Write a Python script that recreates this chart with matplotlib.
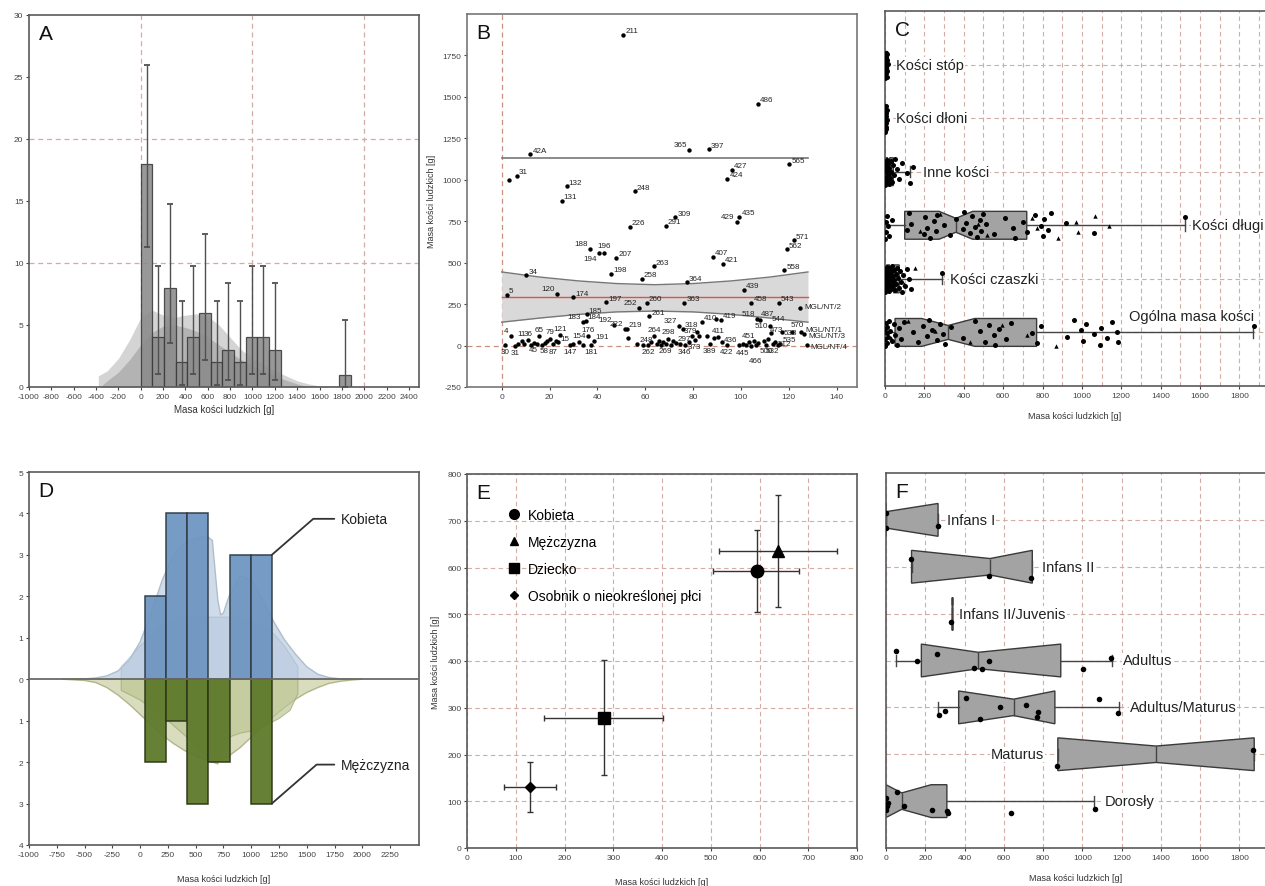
import numpy as np
import matplotlib
matplotlib.use("Agg")
import matplotlib.pyplot as plt
from matplotlib.lines import Line2D

plt.rcParams['font.family'] = ['Liberation Sans', 'DejaVu Sans']
plt.rcParams['axes.unicode_minus'] = False

# ===================== DATA =====================
# --- Panel A / C: total bone mass per feature [g]
total_mass = [0, 0, 2, 5, 8, 10, 12, 15, 20, 25, 30, 38, 45, 52, 60, 70, 82, 95,
              115, 140, 170, 195,
              215, 225, 240, 255, 265, 280, 295, 305,
              335, 395,
              430, 455, 480, 510,
              530, 555, 560, 580, 595, 615,
              640, 720,
              745, 770, 790,
              870, 925,
              960, 995, 1005, 1020,
              1060, 1090, 1095, 1130,
              1155, 1180, 1185,
              1875]
A_nbins = 18
A_range = (0, 1880)
nan = np.nan
A_err_lo = [11.3, 1.07, 3.55, 0.19, 1.07, 2.2, 0.19, 0.6, 0.19, 1.07, 1.07, 0.6,
            nan, nan, nan, nan, nan, 0.03]
A_err_hi = [25.97, 9.72, 14.77, 6.93, 9.72, 12.33, 6.93, 8.35, 6.93, 9.72, 9.72, 8.35,
            nan, nan, nan, nan, nan, 5.37]
A_light_x = [-380, -380, -360, -300, -200, -100, 0, 100, 200, 300, 400, 500, 600, 700, 800,
             900, 1000, 1100, 1200, 1300, 1400, 1500, 1600, 1700]
A_light_y = [0, 0.9, 1.0, 1.3, 2.3, 3.8, 5.6, 6.2, 5.8, 5.6, 5.8, 5.9, 5.7, 5.0, 4.0,
             3.0, 2.3, 1.8, 1.3, 0.9, 0.5, 0.25, 0.08, 0]
A_dark_x = [-350, -300, -200, -100, 0, 100, 200, 300, 400, 500, 600, 700, 800, 900, 1000,
            1100, 1200, 1300, 1400, 1500]
A_dark_y = [0.1, 0.5, 1.2, 2.2, 3.4, 4.4, 4.9, 5.0, 4.8, 4.5, 4.0, 3.4, 2.8, 2.2, 1.7,
            1.3, 0.9, 0.55, 0.25, 0]

# --- Panel B: feature index vs mass
B_x = [2.1, 3.2, 6.3, 10.2, 12.0, 23.0, 25.1, 27.2, 29.8, 34.1, 35.1, 35.5, 36.9, 40.5, 42.9,
       43.7, 45.7, 46.9, 47.8, 50.8, 51.5, 52.2, 53.6, 55.7, 57.5, 58.5, 60.6, 61.6, 63.5,
       68.5, 72.6, 74.2, 76.3, 77.4, 78.4, 83.6, 86.5, 88.4, 89.6, 91.5, 92.3, 94.3, 96.2,
       98.2, 99.3, 101.3, 104.3, 107.2, 107.9, 106.8, 115.9, 118.1, 119.2, 120.1, 122.1,
       124.8, 125.3, 126.3, 127.4, 117.0, 121.2, 112.0,
       1.4, 3.8, 5.6, 7.0, 8.3, 9.5, 11.0, 12.3, 13.4, 14.6, 15.7, 16.8, 17.9, 19.1, 20.2,
       21.4, 22.5, 23.6, 24.4, 28.6, 30.0, 32.5, 34.0, 36.2, 37.5, 38.4, 52.6, 56.7, 59.0,
       61.3, 62.6, 63.8, 64.8, 65.7, 66.6, 67.5, 68.5, 69.6, 70.6, 71.6, 72.8, 74.5, 75.6,
       76.5, 78.2, 79.6, 80.6, 81.6, 82.6, 86.0, 87.0, 88.6, 90.5, 92.0, 94.0, 99.2, 101.0,
       102.2, 103.2, 104.2, 105.5, 106.2, 107.2, 109.5, 110.5, 111.5, 112.5, 113.3, 114.2,
       115.5, 116.5]
B_y = [307, 996, 1022, 423, 1153, 311, 872, 960, 291, 141, 151, 188, 580, 560, 560,
       261, 431, 125, 530, 1875, 97, 100, 717, 930, 226, 401, 258, 176, 478,
       721, 773, 119, 259, 381, 1181, 145, 1183, 534, 161, 155, 494, 1006, 1061,
       745, 777, 335, 259, 1459, 155, 160, 259, 454, 580, 1093, 634,
       224, 82, 70, 5, 81, 81, 115,
       5, 57, 0, 10, 30, 8, 32, 5, 18, 8, 57, 3, 15, 25, 40,
       8, 30, 20, 61, 5, 10, 20, 5, 55, 5, 30, 44, 10, 5,
       5, 20, 55, 8, 30, 5, 22, 10, 40, 5, 30, 15, 8, 100,
       5, 20, 55, 35, 80, 60, 60, 10, 45, 50, 20, 5, 5, 10,
       5, 20, 0, 25, 5, 15, 30, 5, 40, 75, 10, 20,
       5, 10]
B_lab = ['5', '', '31', '34', '42A', '120', '131', '132', '174', '183', '184', '185', '188', '194', '196',
         '197', '198', '192', '207', '211', '222', '219', '226', '248', '252', '258', '260', '261', '263',
         '291', '309', '327', '363', '364', '365', '410', '397', '407', '', '419', '421', '424', '427',
         '429', '435', '439', '458', '486', '487', '518', '543', '558', '562', '565', '571',
         'MGL/NT/2', 'MGL/NT/1', 'MGL/NT/3', 'MGL/NT/4', '538', '570', '544',
         '30', '4', '31', '', '11', '', '36', '', '45', '', '65', '', '58', '', '79',
         '87', '', '15', '121', '147', '', '154', '', '176', '181', '191', '', '248', '',
         '262', '', '264', '', '', '', '', '269', '298', '', '', '297', '', '318',
         '346', '', '', '373', '', '379', '', '389', '', '411', '', '422', '436', '',
         '', '451', '445', '', '466', '500', '510', '', '473', '', '532', '512',
         '', '535']
B_mean = 290
B_limit = 1130
B_band_x = [0, 16, 32, 48, 64, 80, 96, 112, 128]
B_band_hi = [444, 413, 390, 374, 367, 374, 390, 413, 444]
B_band_lo = [141, 166, 188, 203, 208, 203, 188, 166, 141]

# --- Panel C: mass by bone group (top -> bottom)
C_cats = ['Kości stóp', 'Kości dłoni', 'Inne kości', 'Kości długi', 'Kości czaszki', 'Ogólna masa kości']
C_circ = [
    [0, 0, 1, 1, 2, 2, 3, 3, 4, 5, 5, 6, 7, 8, 9, 10, 12, 14],
    [0, 0, 1, 1, 2, 3, 3, 4, 5, 6, 7, 8, 9],
    [0, 1, 2, 3, 4, 5, 6, 8, 10, 12, 14, 16, 18, 20, 22, 25, 28, 32, 36, 40, 45, 52, 60, 70, 85, 110, 128, 140],
    [0, 3, 6, 10, 15, 22, 35, 110, 120, 130, 200, 205, 215, 230, 250, 260, 265, 300, 330, 360, 395, 400,
     410, 430, 440, 455, 465, 480, 490, 500, 515, 555, 610, 650, 660, 700, 720, 760, 790, 800, 810, 830,
     845, 920, 1060, 1525],
    [0, 0, 1, 2, 3, 4, 5, 6, 8, 10, 12, 14, 15, 18, 20, 22, 25, 28, 30, 32, 35, 38, 40, 42, 45, 48, 50, 55,
     58, 60, 65, 70, 75, 80, 85, 90, 100, 110, 120, 130, 287],
    None,
]
C_tri = [[], [], [], [180, 280, 470, 520, 745, 770, 880, 970, 980, 1065, 1140], [95, 150],
         [30, 115, 255, 430, 595, 720, 870]]
C_stats = [
    dict(whislo=0, q1=1, med=4, q3=8, whishi=14, cilo=2, cihi=6),
    dict(whislo=0, q1=1, med=3, q3=6, whishi=9, cilo=2, cihi=5),
    dict(whislo=0, q1=5, med=18, q3=42, whishi=128, cilo=12, cihi=25),
    dict(whislo=0, q1=100, med=360, q3=720, whishi=1525, cilo=275, cihi=445),
    dict(whislo=0, q1=8, med=32, q3=72, whishi=287, cilo=22, cihi=45),
    dict(whislo=0, q1=51, med=321, q3=770, whishi=1870, cilo=186, cihi=456),
]

# --- Panel D: sex histograms
D_edges = [45, 235, 425, 615, 805, 995, 1185]
D_female = [2, 4, 4, 0, 3, 3]
D_male = [2, 1, 3, 2, 0, 3]
D_yticklabels = ['4', '3', '2', '1', '0', '1', '2', '3', '4', '5']
D_fem_x = [-600, -500, -400, -300, -200, -100, 0, 100, 200, 300, 400, 500, 600, 650, 700, 725, 750,
           800, 900, 1000, 1100, 1200, 1300, 1400, 1500, 1600, 1700, 1800, 1900]
D_fem_y = [0, 0.01, 0.03, 0.08, 0.2, 0.45, 0.9, 1.6, 2.4, 3.0, 3.3, 3.4, 3.45, 3.35, 1.9, 1.55, 1.6,
           2.0, 2.5, 2.4, 1.95, 1.4, 0.95, 0.6, 0.3, 0.12, 0.04, 0.01, 0]
D_fem2_x = [-170, -170, -100, 0, 200, 400, 600, 800, 1000, 1200, 1300, 1420, 1420]
D_fem2_y = [0, 0.3, 0.5, 0.8, 1.3, 1.5, 1.5, 1.5, 1.4, 1.1, 0.8, 0.3, 0]
D_mal_x = [-700, -500, -400, -300, -200, -100, 0, 100, 200, 300, 400, 500, 600, 650, 700, 800, 900,
           1000, 1100, 1200, 1300, 1400, 1500, 1600, 1700, 1800, 1900, 2000]
D_mal_y = [0, -0.03, -0.08, -0.2, -0.38, -0.6, -0.85, -1.1, -1.35, -1.55, -1.72, -1.85, -1.95, -2.0,
           -1.98, -1.85, -1.65, -1.4, -1.15, -0.9, -0.68, -0.48, -0.32, -0.2, -0.1, -0.05, -0.02, 0]
D_mal2_x = [-170, -170, 0, 250, 400, 500, 600, 650, 700, 750, 800, 900, 1000, 1100, 1250, 1350, 1420, 1420]
D_mal2_y = [0, -0.27, -0.5, -1.0, -1.35, -1.6, -1.85, -2.0, -2.05, -1.6, -1.4, -1.3, -1.25, -1.15,
            -0.95, -0.75, -0.35, 0]

# --- Panel E: group means with ranges
E_groups = ['Kobieta', 'Mężczyzna', 'Dziecko', 'Osobnik o nieokreślonej płci']
E_x = [594, 637, 280, 130]
E_y = [593, 635, 279, 130]
E_xlo = [504, 516, 157, 76]
E_xhi = [682, 758, 403, 183]
E_ylo = [504, 515, 157, 77]
E_yhi = [681, 756, 403, 184]

# --- Panel F: mass by age class (top -> bottom)
F_cats = ['Infans I', 'Infans II', 'Infans II/Juvenis', 'Adultus', 'Adultus/Maturus', 'Maturus', 'Dorosły']
F_stats = [
    dict(whislo=0, q1=0, med=0, q3=265, whishi=265, cilo=0, cihi=265),
    dict(whislo=130, q1=130, med=530, q3=745, whishi=745, cilo=130, cihi=745),
    dict(whislo=335, q1=335, med=335, q3=335, whishi=335, cilo=335, cihi=335),
    dict(whislo=51, q1=180, med=470, q3=890, whishi=1150, cilo=180, cihi=890),
    dict(whislo=265, q1=370, med=650, q3=860, whishi=1185, cilo=370, cihi=860),
    dict(whislo=875, q1=875, med=1375, q3=1875, whishi=1875, cilo=875, cihi=1875),
    dict(whislo=0, q1=0, med=80, q3=310, whishi=1060, cilo=0, cihi=230),
]
F_pts = [
    [0, 0, 263],
    [127, 527, 740],
    [331],
    [51, 156, 260, 450, 489, 526, 1001, 1148],
    [268, 300, 407, 479, 582, 713, 776, 770, 1083, 1180],
    [869, 1868],
    [0, 0, 5, 10, 55, 90, 232, 310, 316, 637, 1066],
]
F_jit = [
    [0.14, -0.18, -0.13],
    [0.16, -0.19, -0.25],
    [-0.18],
    [0.2, 0.0, 0.14, -0.16, -0.19, 0.0, -0.19, 0.05],
    [-0.16, -0.07, 0.21, -0.25, 0.0, 0.06, -0.1, -0.2, 0.18, -0.12],
    [-0.25, 0.09],
    [0.07, -0.18, -0.1, -0.05, 0.2, -0.1, -0.19, -0.21, -0.26, -0.25, -0.16],
]

# ===================== STYLE =====================
W, H = 1265, 887
GRID = '#d3aca3'
SPINE = '#5a5a5a'
DASH = (0, (4, 3))
fig = plt.figure(figsize=(W / 100, H / 100), dpi=100)
fig.patch.set_facecolor('white')


def add_ax(l, t, r, b):
    return fig.add_axes([l / W, 1 - b / H, (r - l) / W, (b - t) / H])


def style(ax):
    for s in ax.spines.values():
        s.set_color(SPINE)
        s.set_linewidth(1.2)
    ax.tick_params(direction='out', length=2.5, width=0.8, colors='#444', labelsize=6, pad=1.5)


def letter(ax, s):
    ax.text(0.025, 0.975, s, transform=ax.transAxes, fontsize=15, va='top', ha='left',
            color='#111', zorder=10)


XLAB = 'Masa kości ludzkich [g]'

axA = add_ax(29, 16, 419, 388)
axB = add_ax(467, 15, 857, 388)
axC = add_ax(885, 12, 1265, 387)
axD = add_ax(29, 473, 419, 846)
axE = add_ax(467, 475, 857, 849)
axF = add_ax(886, 474, 1265, 849)

# ===================== A =====================
ax = axA
style(ax)
ax.fill_between(A_light_x, 0, A_light_y, color='#d4d4d4', lw=0, zorder=1)
ax.fill_between(A_dark_x, 0, A_dark_y, color='#b3b3b3', lw=0, zorder=1.2)
counts, edges, _ = ax.hist(total_mass, bins=A_nbins, range=A_range, color='#8a8a8a', alpha=0.88,
                           edgecolor='#3a3a3a', linewidth=0.9, zorder=2)
centers = 0.5 * (edges[:-1] + edges[1:])
lo = np.array(A_err_lo)
hi = np.array(A_err_hi)
m = ~np.isnan(lo)
ax.errorbar(centers[m], counts[m], yerr=[counts[m] - lo[m], hi[m] - counts[m]], fmt='none',
            ecolor='#505050', elinewidth=1.0, capsize=2, capthick=1.3, zorder=3)
for v in [0, 1000, 2000]:
    ax.axvline(v, color=GRID, ls=DASH, lw=0.9, zorder=0.5)
for v in [10, 20]:
    ax.axhline(v, color=GRID, ls=DASH, lw=0.9, zorder=0.5)
ax.set_xlim(-1000, 2490)
ax.set_ylim(0, 30)
ax.set_xticks(np.arange(-1000, 2401, 200))
ax.set_yticks(np.arange(0, 31, 5))
ax.set_xlabel(XLAB, fontsize=7, labelpad=3, color='#333')
letter(ax, 'A')

# ===================== B =====================
ax = axB
style(ax)
for s in ax.spines.values():
    s.set_color('#777')
ax.fill_between(B_band_x, B_band_lo, B_band_hi, color='#d9d9d9', lw=0, zorder=1)
ax.plot(B_band_x, B_band_hi, color='#777', lw=1.0, zorder=1.5)
ax.plot(B_band_x, B_band_lo, color='#777', lw=1.0, zorder=1.5)
ax.plot([B_band_x[0], B_band_x[-1]], [B_mean, B_mean], color='#d9534f', lw=1.0, zorder=1.6)
ax.plot([B_band_x[0], B_band_x[-1]], [B_limit, B_limit], color='#777', lw=1.2, zorder=1.6)
ax.axvline(0, color='#c99080', ls=DASH, lw=0.9, zorder=0.5)
ax.axhline(0, color='#c99080', ls=DASH, lw=0.9, zorder=0.5)
ax.scatter(B_x, B_y, s=10, color='black', zorder=3, linewidths=0)
LEFT = {'120', '183', '188', '192', '222', '252', '327', '365', '429', '518', '379', '4', '436'}
BELOW = {'30', '45', '58', '87', '147', '181', '262', '269', '346', '373', '389', '422',
         '532'}
UP = {'11', '36', '65', '79', '121', '154', '176', '196', '264', '298', '411', '451'}
SPECIAL = {
    '194': ((-1, -1.5), 'right', 'top'),
    '445': ((-1, -2.5), 'right', 'top'),
    '500': ((1, -2.5), 'left', 'top'),
    '466': ((0, -9), 'center', 'top'),
    '510': ((-2, 8), 'center', 'bottom'),
    '473': ((1, 4), 'left', 'bottom'),
    '512': ((2, -1), 'left', 'center'),
    '487': ((1, 2), 'left', 'bottom'),
    '544': ((1.5, 3), 'left', 'bottom'),
    '570': ((-1, 3), 'left', 'bottom'),
    '538': ((1.5, 0), 'left', 'center'),
}
seen31 = 0
for x, y, t in zip(B_x, B_y, B_lab):
    if not t:
        continue
    key = t
    if t == '31':
        seen31 += 1
        key = '31b' if seen31 == 2 else '31'
    if key in SPECIAL:
        off, ha, va = SPECIAL[key]
    elif key in LEFT:
        off, ha, va = (-1.5, 1.5), 'right', 'bottom'
    elif key in BELOW or key == '31b':
        off, ha, va = (0, -2.5), 'center', 'top'
    elif key in UP:
        off, ha, va = (0, 2.5), 'center', 'bottom'
    elif key.startswith('MGL'):
        off, ha, va = (3, -1 if key in ('MGL/NT/3', 'MGL/NT/4') else 1.5), 'left', 'center'
    else:
        off, ha, va = (1.5, 0.5), 'left', 'bottom'
    ax.annotate(t, (x, y), xytext=off, textcoords='offset points', ha=ha, va=va,
                fontsize=5.8, color='#222', zorder=4)
ax.set_xlim(-14.5, 148.5)
ax.set_ylim(-250, 2000)
ax.set_xticks(np.arange(0, 141, 20))
ax.set_yticks(np.arange(-250, 1751, 250))
ax.set_ylabel(XLAB, fontsize=6.5, labelpad=5, color='#333')
letter(ax, 'B')

# ===================== C =====================
ax = axC
style(ax)
ax.spines['right'].set_visible(False)
nC = len(C_cats)
posC = [nC - i for i in range(nC)]
for i, (cat, st) in enumerate(zip(C_cats, C_stats)):
    notch = st['q3'] - st['q1'] > 30
    ax.bxp([st], positions=[posC[i]], widths=0.52, orientation='horizontal', patch_artist=True,
           shownotches=notch, showfliers=False, manage_ticks=False,
           boxprops=dict(facecolor='#a3a3a3', edgecolor='#3a3a3a', linewidth=1.0),
           whiskerprops=dict(color='#444', linewidth=1.0),
           capprops=dict(color='#444', linewidth=1.0),
           medianprops=dict(color='#444', linewidth=1.0), capwidths=0.2, zorder=2)
    tri = C_tri[i]
    if C_circ[i] is None:
        circ = [v for v in total_mass if v not in tri]
    else:
        circ = C_circ[i]
    n = len(circ)
    jit = ((np.arange(n) * 0.618034) % 1 - 0.5) * 0.5
    ax.scatter(circ, posC[i] + jit, s=13, color='black', linewidths=0, zorder=3)
    if tri:
        jt = ((np.arange(len(tri)) * 0.618034 + 0.3) % 1 - 0.5) * 0.5
        ax.scatter(tri, posC[i] + jt, s=10, marker='^', color='black', linewidths=0, zorder=3)
C_lab_x = [58, 58, 192, 1560, 328, 1240]
C_lab_dy = [0, 0, 0, 0, 0, 0.3]
for i, cat in enumerate(C_cats):
    ax.text(C_lab_x[i], posC[i] + C_lab_dy[i], cat, fontsize=10.5, va='center', ha='left',
            color='#222', zorder=5,
            bbox=dict(facecolor='white', edgecolor='none', pad=0.5))
ax.set_xlim(0, 1930)
ax.set_ylim(0, 7)
ax.set_xticks(np.arange(0, 1801, 200))
ax.set_xticks(np.arange(100, 1901, 200), minor=True)
ax.set_yticks(posC)
ax.set_yticklabels([])
ax.tick_params(axis='y', length=0)
ax.tick_params(axis='x', which='minor', length=0)
ax.set_axisbelow(True)
ax.grid(True, which='both', axis='x', color=GRID, ls=DASH, lw=0.8)
ax.grid(True, which='major', axis='y', color=GRID, ls=DASH, lw=0.8)
ax.set_xlabel(XLAB, fontsize=6.5, labelpad=9, color='#333')
letter(ax, 'C')

# ===================== D =====================
ax = axD
style(ax)
ax.fill(D_fem_x, D_fem_y, facecolor='#cad8e7', edgecolor='#a9b9cb', lw=1.0, alpha=0.9, zorder=1)
ax.fill(D_fem2_x, D_fem2_y, facecolor='#b6c9de', edgecolor='#a9b9cb', lw=0.8, alpha=0.6, zorder=1.1)
ax.fill(D_mal_x, D_mal_y, facecolor='#d5dab7', edgecolor='#aab07f', lw=1.0, alpha=0.9, zorder=1)
ax.fill(D_mal2_x, D_mal2_y, facecolor='#bdc694', edgecolor='#a1a874', lw=0.8, alpha=0.7, zorder=1.1)
edges_D = np.array(D_edges)
cD = 0.5 * (edges_D[:-1] + edges_D[1:])
wD = np.diff(edges_D)
fem = np.array(D_female)
mal = np.array(D_male)
ax.bar(cD[fem > 0], fem[fem > 0], width=wD[fem > 0], color='#6f96c1', edgecolor='#2e3a46',
       linewidth=1.1, zorder=2, alpha=0.95)
ax.bar(cD[mal > 0], -mal[mal > 0], width=wD[mal > 0], color='#5e7a2b', edgecolor='#2c3518',
       linewidth=1.1, zorder=2, alpha=0.95)
ax.axhline(0, color='#6a6a6a', lw=1.3, zorder=3)
for txt, yv, ytxt in [('Kobieta', fem[-1], 3.87), ('Mężczyzna', -mal[-1], -2.06)]:
    ax.annotate(txt, xy=(edges_D[-1], yv), xytext=(1810, ytxt), fontsize=10,
                va='center', ha='left', color='#222',
                arrowprops=dict(arrowstyle='-', color='#333', lw=1.3, shrinkA=3, shrinkB=0,
                                connectionstyle='angle,angleA=0,angleB=41,rad=0'))
ax.set_xlim(-1000, 2510)
ax.set_ylim(-4, 5)
ax.set_xticks(np.arange(-1000, 2251, 250))
ax.set_yticks(np.arange(-4, 6, 1))
ax.set_yticklabels(D_yticklabels)
ax.set_xlabel(XLAB, fontsize=6.5, labelpad=12, color='#333')
letter(ax, 'D')

# ===================== E =====================
ax = axE
style(ax)
E_mark = ['o', '^', 's', 'D']
E_ms = [9, 8, 9, 5]
handles = []
for i, g in enumerate(E_groups):
    ax.errorbar([E_x[i]], [E_y[i]],
                xerr=[[E_x[i] - E_xlo[i]], [E_xhi[i] - E_x[i]]],
                yerr=[[E_y[i] - E_ylo[i]], [E_yhi[i] - E_y[i]]],
                fmt=E_mark[i], ms=E_ms[i], color='black', ecolor='#333', elinewidth=1.0,
                capsize=2.5, capthick=1.0, zorder=3)
    handles.append(Line2D([], [], marker=E_mark[i], ls='none', color='black',
                          ms=[7, 6, 7, 4.5][i], label=g))
ax.legend(handles=handles, loc='upper left', bbox_to_anchor=(0.085, 0.925), frameon=False,
          fontsize=10, labelspacing=0.95, handletextpad=0.4, handlelength=1.2, borderaxespad=0)
ax.set_xlim(0, 800)
ax.set_ylim(0, 800)
ax.set_xticks(np.arange(0, 801, 100))
ax.set_yticks(np.arange(0, 801, 100))
ax.set_axisbelow(True)
ax.grid(True, color=GRID, ls=DASH, lw=0.8)
ax.set_xlabel(XLAB, fontsize=6.5, labelpad=12, color='#333')
ax.set_ylabel(XLAB, fontsize=6.5, labelpad=5, color='#333')
letter(ax, 'E')

# ===================== F =====================
ax = axF
style(ax)
ax.spines['right'].set_visible(False)
nF = len(F_cats)
posF = [nF - i for i in range(nF)]
for i, st in enumerate(F_stats):
    ax.bxp([st], positions=[posF[i]], widths=0.7, orientation='horizontal', patch_artist=True,
           shownotches=True, showfliers=False, manage_ticks=False,
           boxprops=dict(facecolor='#a3a3a3', edgecolor='#3a3a3a', linewidth=1.0),
           whiskerprops=dict(color='#444', linewidth=1.0),
           capprops=dict(color='#444', linewidth=1.0),
           medianprops=dict(color='#444', linewidth=1.0), capwidths=0.24, zorder=2)
    ax.scatter(F_pts[i], posF[i] + np.array(F_jit[i]), s=16, color='black', linewidths=0, zorder=3)
F_lab_x = [309, 795, 374, 1206, 1240, 807, 1112]
F_lab_ha = ['left', 'left', 'left', 'left', 'left', 'right', 'left']
for i, cat in enumerate(F_cats):
    ax.text(F_lab_x[i], posF[i], cat, fontsize=10.5, va='center', ha=F_lab_ha[i], color='#222',
            zorder=5, bbox=dict(facecolor='white', edgecolor='none', pad=0.5))
ax.set_xlim(0, 1930)
ax.set_ylim(0, 8)
ax.set_xticks(np.arange(0, 1801, 200))
ax.set_yticks(posF)
ax.set_yticklabels([])
ax.tick_params(axis='y', length=0)
ax.set_axisbelow(True)
ax.grid(True, axis='both', color=GRID, ls=DASH, lw=0.8)
ax.set_xlabel(XLAB, fontsize=6.5, labelpad=9, color='#333')
letter(ax, 'F')

fig.savefig('out.png', dpi=100, facecolor='white')
